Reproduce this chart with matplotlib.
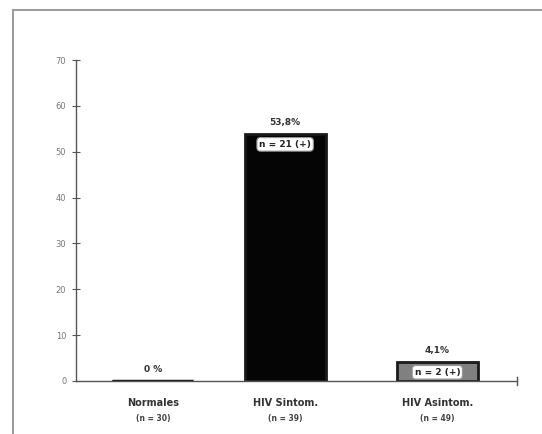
import matplotlib
matplotlib.use("Agg")
import matplotlib.pyplot as plt
from matplotlib.patches import Rectangle

categories = ["Normales", "HIV Sintom.", "HIV Asintom."]
group_n = ["(n = 30)", "(n = 39)", "(n = 49)"]
values = [0.0, 53.8, 4.1]
pct_labels = ["0 %", "53,8%", "4,1%"]
pos_labels = [None, "n = 21 (+)", "n = 2 (+)"]
yticks = [0, 10, 20, 30, 40, 50, 60, 70]

fig = plt.figure(figsize=(5.42, 4.34), dpi=100)
fig.patch.set_facecolor("white")
# outer frame (top and left edges visible)
fig.patches.append(Rectangle((13/542, -0.05), 1.1, 1 - 10/434 + 0.05, transform=fig.transFigure,
                             fill=False, edgecolor="#9a9a9a", linewidth=1.4))

ax = fig.add_axes([76/542, 1 - 381/434, (517 - 76)/542, (381 - 60)/434])
x = [0, 0.93, 2.0]
colors = ["#222222", "#050505", "#808080"]
ax.bar(x, values, width=0.57, color=colors, edgecolor="#1a1a1a", linewidth=2.0)
# Normales bar: zero height, shown as a thick line
ax.plot([x[0] - 0.285, x[0] + 0.285], [0, 0], color="#222222", lw=2.5, solid_capstyle="butt", zorder=3)

ax.set_xlim(-0.54, 2.56)
ax.set_ylim(0, 70)
ax.set_yticks(yticks)
ax.set_yticklabels([str(t) for t in yticks], fontsize=6, color="#777777")
ax.tick_params(axis="y", direction="inout", length=6, width=0.8, color="#555555", pad=4)
ax.set_xticks([])
for s in ["top", "right"]:
    ax.spines[s].set_visible(False)
ax.spines["left"].set_color("#555555")
ax.spines["bottom"].set_color("#555555")
ax.spines["left"].set_linewidth(1.0)
ax.spines["bottom"].set_linewidth(1.0)
# end cap at right of x-axis
ax.plot([2.56, 2.56], [-0.9, 0.9], color="#555555", lw=1, clip_on=False)

for xi, v, pl in zip(x, values, pct_labels):
    ax.text(xi, v + 1.6, pl, ha="center", va="bottom", fontsize=6.5, fontweight="bold", color="#333333")

for xi, v, nl in zip(x, values, pos_labels):
    if nl:
        ax.text(xi, v - 2.2, nl, ha="center", va="center", fontsize=6.5, fontweight="bold", color="#222222",
                bbox=dict(boxstyle="round,pad=0.25,rounding_size=0.4", fc="white", ec="#999999", lw=0.8))

for xi, c, n in zip(x, categories, group_n):
    ax.text(xi, -3.6, c, ha="center", va="top", fontsize=7, fontweight="bold", color="#333333")
    ax.text(xi, -7.3, n, ha="center", va="top", fontsize=5.5, fontweight="bold", color="#444444")

fig.savefig("out.png", dpi=100)
